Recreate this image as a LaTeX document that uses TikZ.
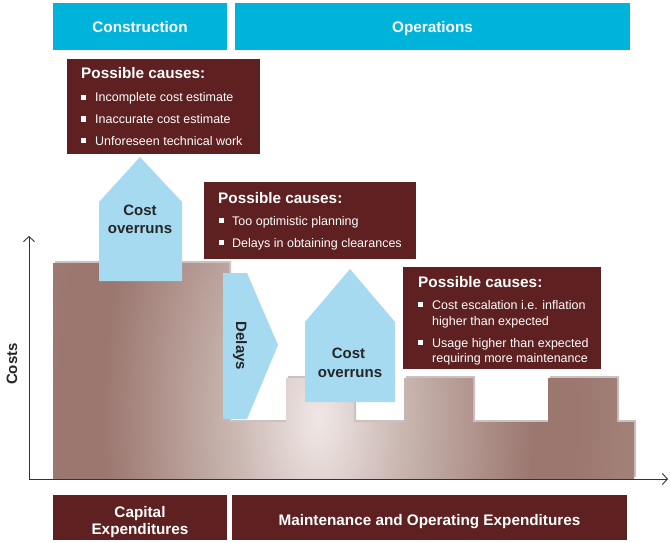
\documentclass[tikz,border=0pt]{standalone}
\usepackage{fontspec}
\setmainfont{Liberation Sans}
\usetikzlibrary{arrows.meta}
\definecolor{cyanbar}{HTML}{00B3DA}
\definecolor{maroonbox}{HTML}{5E2020}
\definecolor{lblue}{HTML}{A6DAF0}
\definecolor{chartdark}{HTML}{9B776F}
\definecolor{chartmid}{HTML}{CDBAB5}
\definecolor{chartlight}{HTML}{F0E8E6}
\definecolor{chartouter}{HTML}{A6847C}
\definecolor{chartedge}{HTML}{C9C2C0}
\definecolor{axisgray}{HTML}{333333}
\pgfdeclareradialshading{chartshade}{\pgfpoint{0bp}{0bp}}{%
  color(0bp)=(chartlight); color(4.5bp)=(chartmid); color(12.5bp)=(chartdark); color(15bp)=(chartdark); color(20bp)=(chartouter); color(50bp)=(chartouter)}
\tikzset{
  headbox/.style={fill=cyanbar, draw=none},
  causebox/.style={fill=maroonbox, draw=none},
  arrowshape/.style={fill=lblue, draw=none},
  headtxt/.style={text=white, font=\bfseries\fontsize{15.3}{18}\selectfont, inner sep=0pt, anchor=base},
  titletxt/.style={text=white, font=\bfseries\fontsize{15.3}{18}\selectfont, anchor=base west, inner sep=0pt},
  bultxt/.style={text=white, font=\fontsize{12.5}{15}\selectfont, anchor=base west, inner sep=0pt},
  shapetxt/.style={text=black!85, font=\bfseries\fontsize{15}{18}\selectfont, inner sep=0pt, anchor=base},
  axisline/.style={draw=axisgray, line width=0.9pt, -{Straight Barb[length=5pt,width=11pt,line width=0.9pt]}}
}
\newcommand{\bulsq}[2]{\fill[white] (#1,#2-6.8) rectangle ++(5.2,5.2);}
\begin{document}
\begin{tikzpicture}[x=1pt,y=-1pt]
\useasboundingbox (0,0) rectangle (670,543);

% header bars
\fill[headbox] (53,3) rectangle (227,50);
\node[headtxt] (constr) at (140,33) {Construction};
\fill[headbox] (235,3) rectangle (630,50);
\node[headtxt] (oper) at (432.5,33) {Operations};

% chart shape (shadow + shaded body)
\def\chartpath{(53,479) -- (53,263) -- (229,263) -- (229,422) -- (286,422) -- (286,378) -- (354,378) -- (354,422) -- (404,422) -- (404,378) -- (473,378) -- (473,422) -- (548,422) -- (548,378) -- (617,378) -- (617,422) -- (634,422) -- (634,479) -- cycle}
\fill[chartedge, shift={(2,-2)}] \chartpath;
\begin{scope}
  \clip \chartpath;
  \shade[shading=chartshade] (318,418) ellipse [x radius=430, y radius=800];
\end{scope}

% axes
\coordinate (origin) at (29,479);
\coordinate (ytop) at (29,236);
\coordinate (xend) at (668,479);
\draw[axisline] (origin) -- (ytop);
\draw[axisline] (origin) -- (xend);
\node[shapetxt, anchor=center, rotate=90] (costs) at (12,364) {Costs};

% box 1
\fill[causebox] (67,59) rectangle (260,154);
\node[titletxt] (t1) at (81,79) {Possible causes:};
\bulsq{81}{101.7}
\node[bultxt] (b1a) at (95,101.7) {Incomplete cost estimate};
\bulsq{81}{123.3}
\node[bultxt] (b1b) at (95,123.3) {Inaccurate cost estimate};
\bulsq{81}{145}
\node[bultxt] (b1c) at (95,145) {Unforeseen technical work};

% house 1
\fill[arrowshape] (99,281) -- (99,202) -- (140,157) -- (182,202) -- (182,281) -- cycle;
\node[shapetxt] (co1a) at (140,215) {Cost};
\node[shapetxt] (co1b) at (140,233) {overruns};

% box 2
\fill[causebox] (204,182) rectangle (416,259);
\node[titletxt] (t2) at (218,203) {Possible causes:};
\bulsq{219}{225}
\node[bultxt] (b2a) at (232,225) {Too optimistic planning};
\bulsq{219}{247}
\node[bultxt] (b2b) at (232,247) {Delays in obtaining clearances};

% delays arrow
\fill[arrowshape] (223,273) -- (247,273) -- (278,345) -- (247,419) -- (223,419) -- cycle;
\node[shapetxt, anchor=center, rotate=-90] (delays) at (240,346) {Delays};

% house 2
\fill[arrowshape] (305,402) -- (305,322) -- (350,269) -- (395,322) -- (395,402) -- cycle;
\node[shapetxt] (co2a) at (348.5,358) {Cost};
\node[shapetxt] (co2b) at (350,377) {overruns};

% box 3
\fill[causebox] (403,267) rectangle (601,369);
\node[titletxt] (t3) at (418,287) {Possible causes:};
\bulsq{418}{309}
\node[bultxt] (b3a) at (432,309) {Cost escalation i.e. inflation};
\node[bultxt] (b3b) at (432,325) {higher than expected};
\bulsq{418}{347}
\node[bultxt] (b3c) at (432,347) {Usage higher than expected};
\node[bultxt] (b3d) at (432,362.5) {requiring more maintenance};

% bottom boxes
\fill[causebox] (53,495) rectangle (227,540);
\node[headtxt] (capexa) at (140,517) {Capital};
\node[headtxt] (capexb) at (140,534) {Expenditures};
\fill[causebox] (232,495) rectangle (627,540);
\node[headtxt] (opex) at (429.5,525) {Maintenance and Operating Expenditures};
\end{tikzpicture}
\end{document}
